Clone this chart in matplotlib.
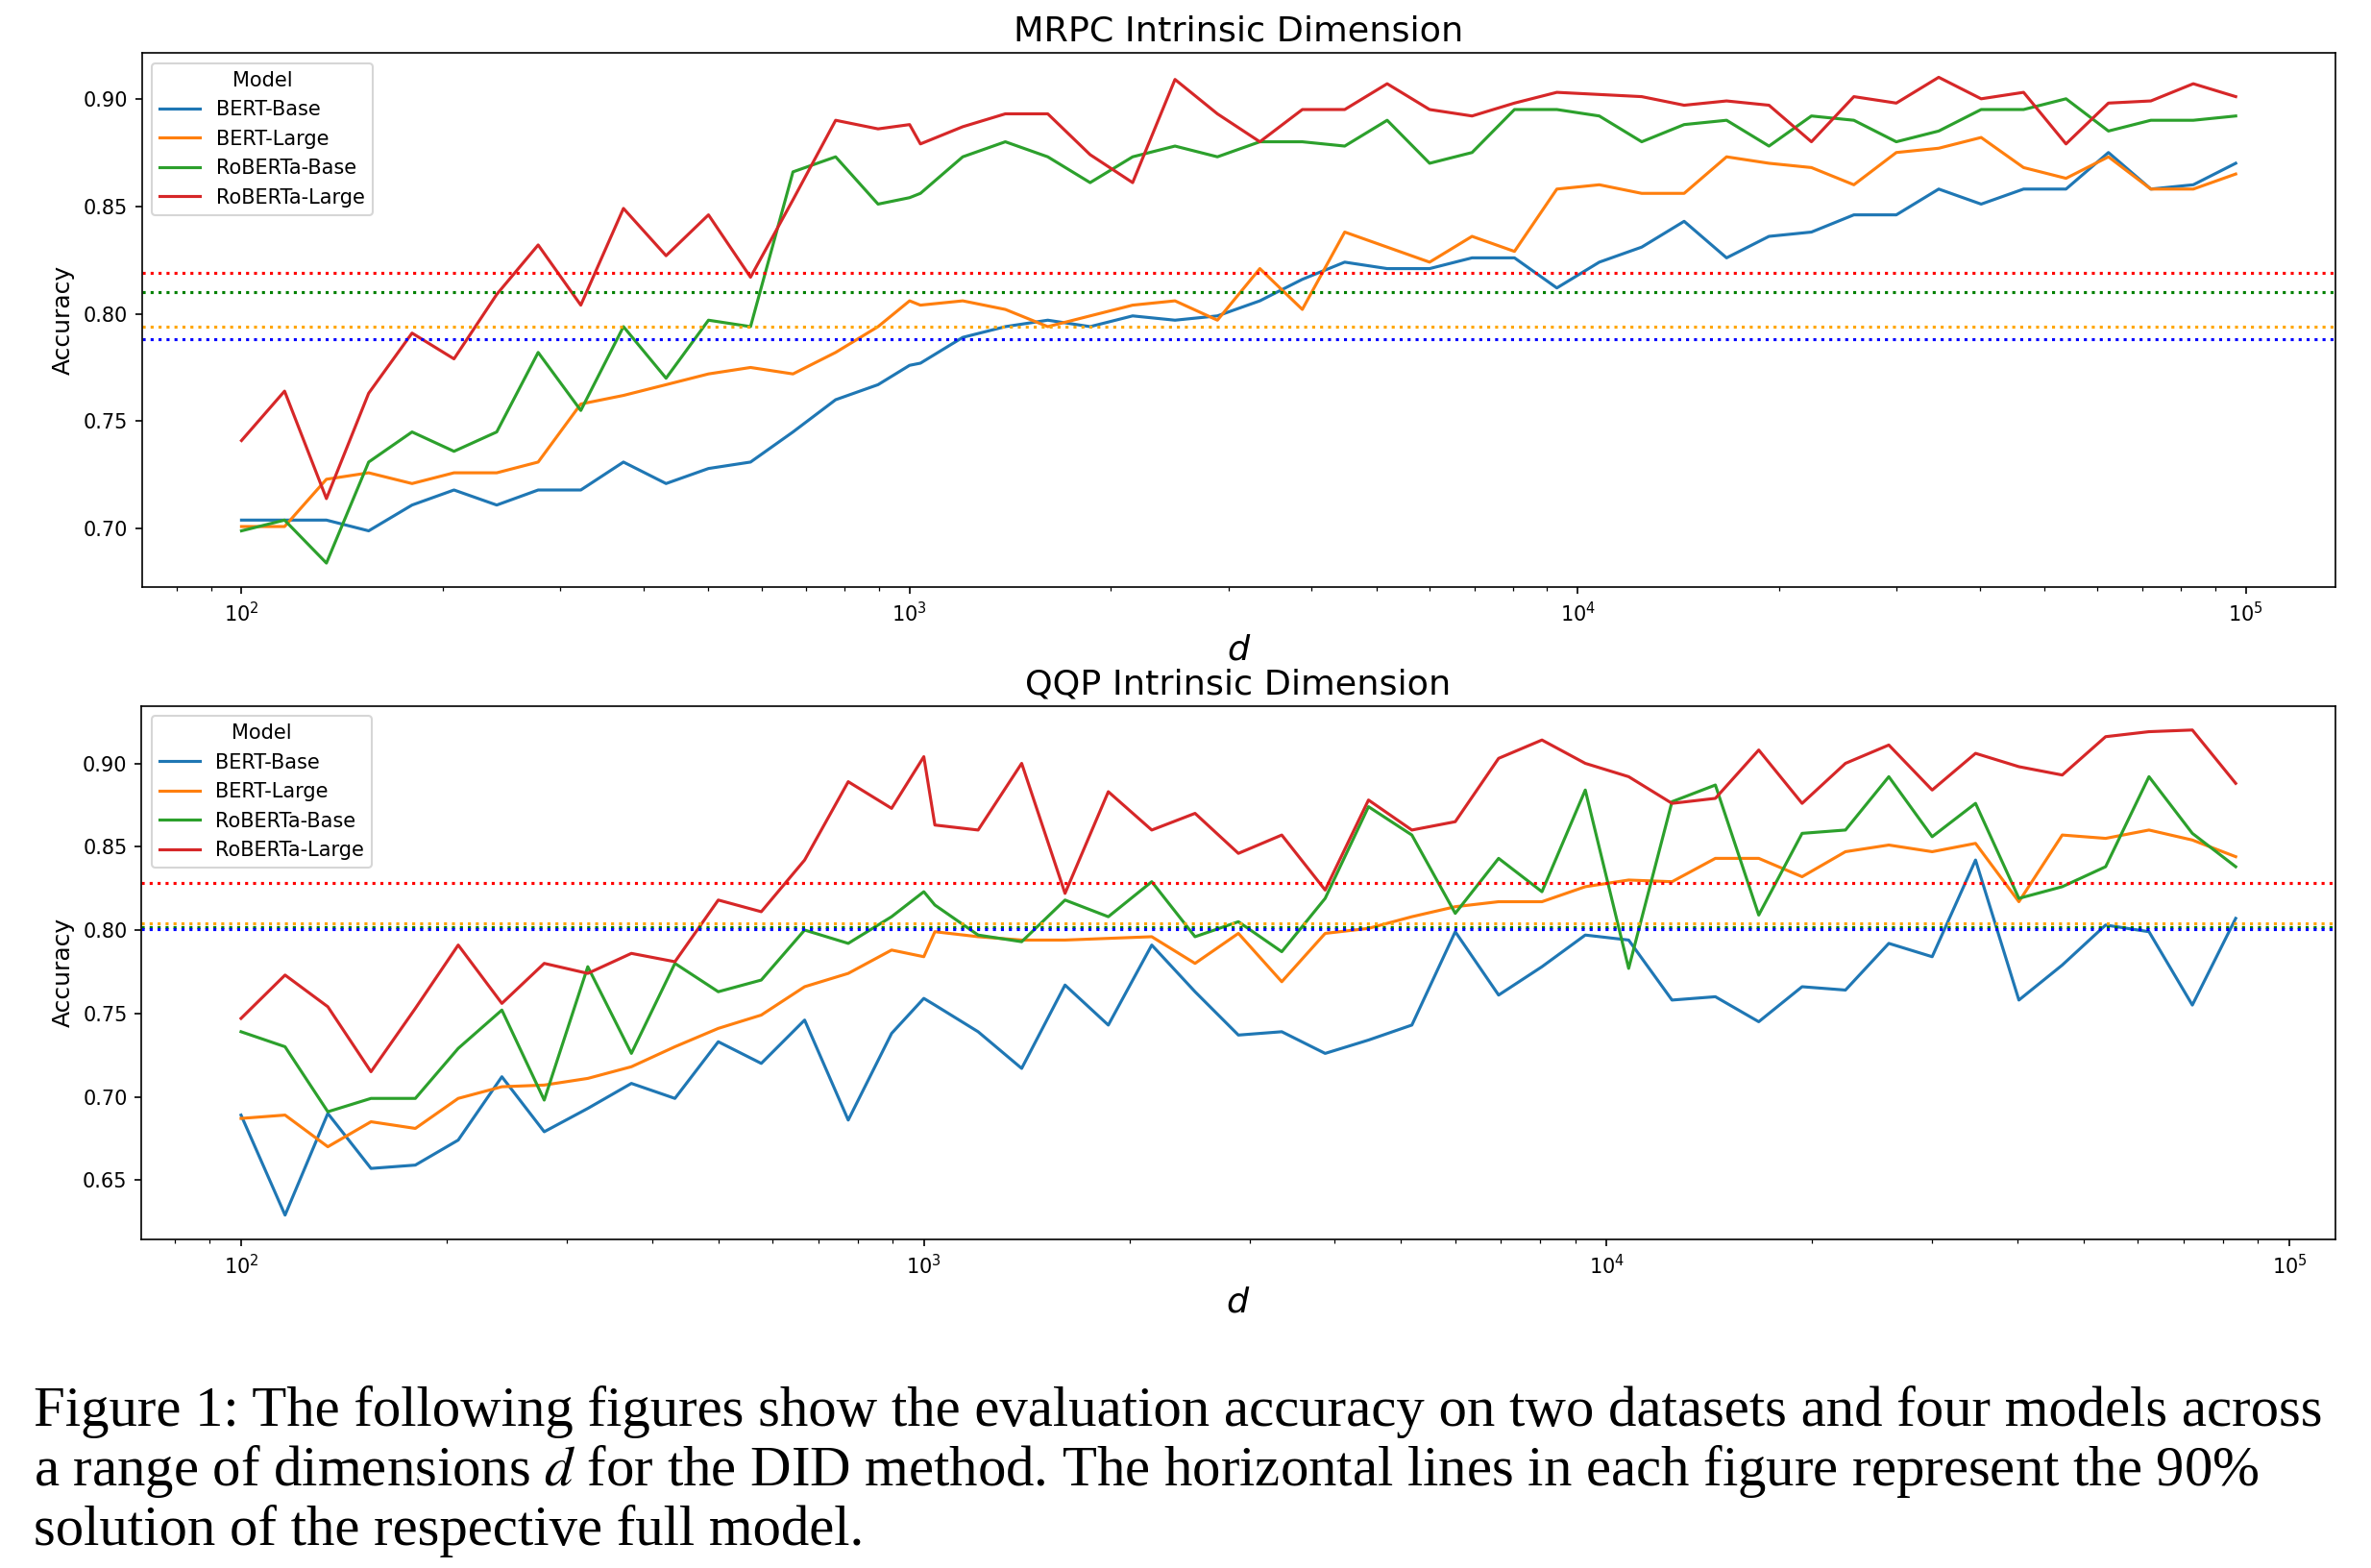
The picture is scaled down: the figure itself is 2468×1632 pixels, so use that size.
import matplotlib
matplotlib.use("Agg")
import matplotlib.pyplot as plt

# subspace dimensions d (log grid with 1000 added)
d_mrpc = [100, 116, 134, 155, 180, 208, 241, 278, 322, 373, 432, 500, 578, 669, 775, 897,
          1000, 1038, 1201, 1391, 1610, 1863, 2157, 2496, 2889, 3344, 3871, 4480, 5186, 6003,
          6948, 8042, 9307, 10773, 12469, 14432, 16705, 19335, 22380, 25904, 29983, 34704,
          40169, 46494, 53815, 62289, 72098, 83450, 96590]
d_qqp = d_mrpc[:-1]

models = ["BERT-Base", "BERT-Large", "RoBERTa-Base", "RoBERTa-Large"]

# MRPC accuracies
bert_base_mrpc = [.704, .704, .704, .699, .711, .718, .711, .718, .718, .731, .721, .728, .731, .745, .760, .767,
                  .776,
                  .777, .789, .794, .797, .794, .799, .797, .799, .806, .816, .824, .821, .821, .826, .826, .812,
                  .824, .831, .843, .826, .836, .838, .846, .846, .858, .851, .858, .858, .875, .858, .860, .870]
bert_large_mrpc = [.701, .701, .723, .726, .721, .726, .726, .731, .758, .762, .767, .772, .775, .772, .782, .794,
                   .806,
                   .804, .806, .802, .794, .799, .804, .806, .797, .821, .802, .838, .831, .824, .836, .829, .858,
                   .860, .856, .856, .873, .870, .868, .860, .875, .877, .882, .868, .863, .873, .858, .858, .865]
roberta_base_mrpc = [.699, .704, .684, .731, .745, .736, .745, .782, .755, .794, .770, .797, .794, .866, .873, .851,
                     .854,
                     .856, .873, .880, .873, .861, .873, .878, .873, .880, .880, .878, .890, .870, .875, .895, .895,
                     .892, .880, .888, .890, .878, .892, .890, .880, .885, .895, .895, .900, .885, .890, .890, .892]
roberta_large_mrpc = [.741, .764, .714, .763, .791, .779, .809, .832, .804, .849, .827, .846, .817, .853, .890, .886,
                      .888,
                      .879, .887, .893, .893, .874, .861, .909, .893, .880, .895, .895, .907, .895, .892, .898, .903,
                      .902, .901, .897, .899, .897, .880, .901, .898, .910, .900, .903, .879, .898, .899, .907, .901]

# QQP accuracies
bert_base_qqp = [.689, .629, .690, .657, .659, .674, .712, .679, .693, .708, .699, .733, .720, .746, .686, .738,
                 .759,
                 .755, .739, .717, .767, .743, .791, .763, .737, .739, .726, .734, .743, .799, .761, .778, .797,
                 .794, .758, .760, .745, .766, .764, .792, .784, .842, .758, .779, .803, .799, .755, .807]
bert_large_qqp = [.687, .689, .670, .685, .681, .699, .706, .707, .711, .718, .730, .741, .749, .766, .774, .788,
                  .784,
                  .799, .796, .794, .794, .795, .796, .780, .798, .769, .798, .801, .808, .814, .817, .817, .826,
                  .830, .829, .843, .843, .832, .847, .851, .847, .852, .817, .857, .855, .860, .854, .844]
roberta_base_qqp = [.739, .730, .691, .699, .699, .729, .752, .698, .778, .726, .780, .763, .770, .800, .792, .808,
                    .823,
                    .815, .797, .793, .818, .808, .829, .796, .805, .787, .819, .874, .857, .810, .843, .823, .884,
                    .777, .877, .887, .809, .858, .860, .892, .856, .876, .819, .826, .838, .892, .858, .838]
roberta_large_qqp = [.747, .773, .754, .715, .753, .791, .756, .780, .774, .786, .781, .818, .811, .842, .889, .873,
                     .904,
                     .863, .860, .900, .822, .883, .860, .870, .846, .857, .824, .878, .860, .865, .903, .914, .900,
                     .892, .876, .879, .908, .876, .900, .911, .884, .906, .898, .893, .916, .919, .920, .888]

# 90% of full-model accuracy
base_mrpc = {"green": .810, "red": .819, "orange": .794, "blue": .788}
base_qqp = {"green": .8016, "red": .828, "orange": .804, "blue": .8006}

colors = ["tab:blue", "tab:orange", "tab:green", "tab:red"]

fig = plt.figure(figsize=(2468 / 150, 1632 / 150), dpi=150)
ax1 = fig.add_axes([0.0598, 0.6254, 0.9252, 0.3408])
ax2 = fig.add_axes([0.0596, 0.2096, 0.9254, 0.3403])

panels = [
    (ax1, "MRPC Intrinsic Dimension", d_mrpc,
     [bert_base_mrpc, bert_large_mrpc, roberta_base_mrpc, roberta_large_mrpc], base_mrpc),
    (ax2, "QQP Intrinsic Dimension", d_qqp,
     [bert_base_qqp, bert_large_qqp, roberta_base_qqp, roberta_large_qqp], base_qqp),
]

for ax, title, d, series, base in panels:
    for name, ys, c in zip(models, series, colors):
        ax.plot(d, ys, color=c, lw=1.5, label=name)
    for c, v in base.items():
        ax.axhline(v, color=c, ls=":", lw=1.5)
    ax.set_xscale("log")
    ax.set_title(title, fontsize=17.5)
    ax.set_xlabel("$d$", fontsize=17.5)
    ax.set_ylabel("Accuracy", fontsize=12)
    ax.legend(title="Model", loc="upper left")

# caption below the plots
caption = [
    "Figure 1: The following figures show the evaluation accuracy on two datasets and four models across",
    "a range of dimensions $d$ for the DID method. The horizontal lines in each figure represent the 90%",
    "solution of the respective full model.",
]
baselines = [1484, 1546, 1608]
texts = []
for line, yb in zip(caption, baselines):
    t = fig.text(35 / 2468, 1 - yb / 1632, line, fontsize=22, va="baseline", ha="left",
                 family="Liberation Serif", math_fontfamily="stix")
    texts.append(t)

# scale caption so the first line spans the same width as in the paper
fig.canvas.draw()
w = texts[0].get_window_extent().width
fs = 22 * 2385 / w
for t in texts:
    t.set_fontsize(fs)

fig.savefig("out.png", dpi=150)
